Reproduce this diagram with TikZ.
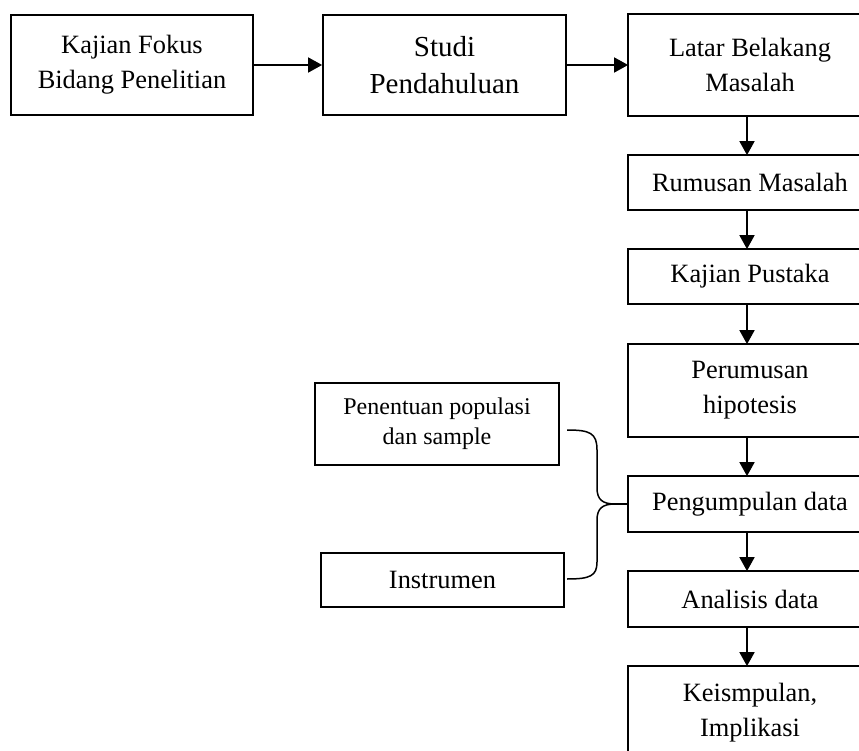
\documentclass[tikz,border=0pt]{standalone}
\usepackage{fontspec}
\setmainfont{Liberation Serif}
\usetikzlibrary{arrows.meta}
\begin{document}
\begin{tikzpicture}[x=1pt,y=-1pt,
  box/.style={draw,line width=1.8pt,inner sep=0pt,align=center,font=\fontsize{26.4}{35}\selectfont},
  bigbox/.style={box,font=\fontsize{29}{37}\selectfont},
  smallbox/.style={box,font=\fontsize{24}{30}\selectfont},
  colbox/.style={box,draw=none,minimum width=242pt},
  openedge/.style={line width=1.8pt,line join=miter},
  arr/.style={line width=1.8pt,-{Triangle[length=14pt,width=15pt]}},
  bracel/.style={line width=1.5pt}]
\useasboundingbox (0,0) rectangle (859,751);
\clip (0,0) rectangle (859,751);
\node[box,minimum width=242pt,minimum height=100pt] (k1) at (132,65) {Kajian Fokus\\Bidang Penelitian};
\node[bigbox,minimum width=243pt,minimum height=100pt] (s2) at (444.5,65) {Studi\\Pendahuluan};
\node[colbox,minimum height=100pt] (l3) at (750,65) {Latar Belakang\\Masalah};
\node[colbox,minimum height=53pt] (r4) at (750,182.5) {Rumusan Masalah};
\node[colbox,minimum height=53pt] (p5) at (750,276.5) {Kajian Pustaka};
\node[colbox,minimum height=91pt] (h6) at (750,390.5) {Perumusan\\hipotesis};
\node[colbox,minimum height=54pt] (d7) at (750,504) {Pengumpulan data};
\node[colbox,minimum height=54pt] (a8) at (750,599) {Analisis data};
\node[colbox,minimum height=91pt] (c9) at (750,712.5) {Keismpulan,\\Implikasi};
\foreach \n in {l3,r4,p5,h6,d7,a8,c9}
  \draw[openedge] (\n.north east) -- (\n.north west) -- (\n.south west) -- (\n.south east);
\node[smallbox,minimum width=244pt,minimum height=82pt] (pen) at (437,424) {Penentuan populasi\\dan sample};
\node[box,minimum width=243pt,minimum height=54pt] (ins) at (442.5,580) {Instrumen};
\draw[arr] (k1.east) -- (s2.west);
\draw[arr] (s2.east) -- (l3.west);
\draw[arr] ([xshift=-3pt]l3.south) -- ([xshift=-3pt]r4.north);
\draw[arr] ([xshift=-3pt]r4.south) -- ([xshift=-3pt]p5.north);
\draw[arr] ([xshift=-3pt]p5.south) -- ([xshift=-3pt]h6.north);
\draw[arr] ([xshift=-3pt]h6.south) -- ([xshift=-3pt]d7.north);
\draw[arr] ([xshift=-3pt]d7.south) -- ([xshift=-3pt]a8.north);
\draw[arr] ([xshift=-3pt]a8.south) -- ([xshift=-3pt]c9.north);
\coordinate (bt) at (567,430);
\coordinate (bb) at (567,579);
\coordinate (tip) at (615,504);
\draw[bracel] (bt) .. controls (590,430) and (597,433) .. (597,450) -- (597,488)
  .. controls (597,500) and (603,504) .. (tip)
  .. controls (603,504) and (597,508) .. (597,520) -- (597,562)
  .. controls (597,576) and (590,579) .. (bb);
\draw[bracel] (tip) -- (d7.west);
\end{tikzpicture}
\end{document}
